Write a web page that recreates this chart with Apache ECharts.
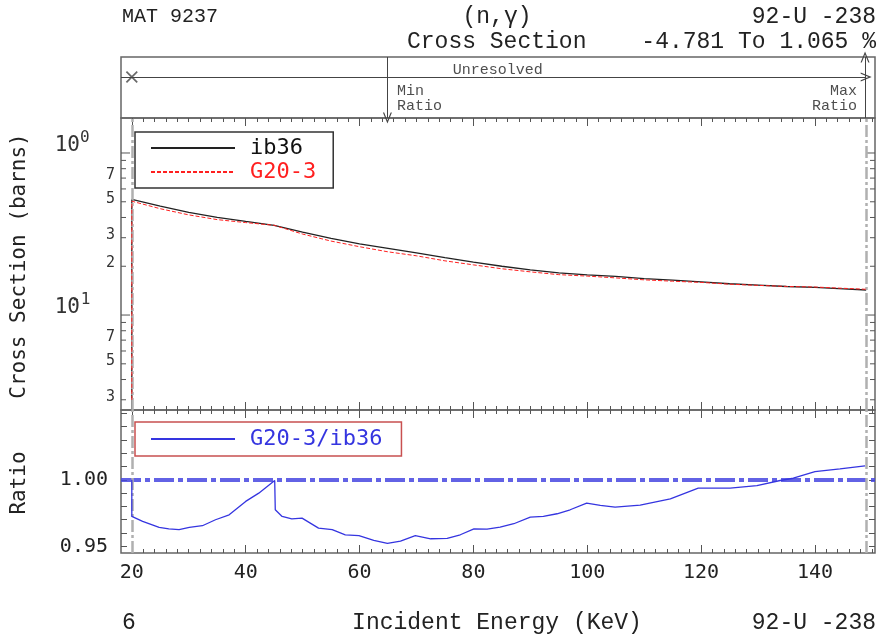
<!DOCTYPE html>
<html><head><meta charset="utf-8">
<script src="https://cdn.jsdelivr.net/npm/echarts@6/dist/echarts.min.js"></script>
<style>html,body{margin:0;padding:0;background:#fff}#c{width:880px;height:638px}</style>
</head><body><div id="c"></div>
<script>
// ---- data ----
const ib36Energy = [20, 20, 25, 30, 35, 40, 45, 50, 55, 60, 65, 70, 75, 80, 85, 90, 95, 100, 105, 110, 115, 120, 125, 130, 135, 140, 145, 149];
const ib36Values = [0.02, 0.518, 0.470, 0.430, 0.400, 0.378, 0.358, 0.325, 0.297, 0.275, 0.258, 0.242, 0.226, 0.212, 0.200, 0.190, 0.182, 0.177, 0.173, 0.168, 0.164, 0.160, 0.156, 0.153, 0.150, 0.148, 0.145, 0.1427];
const g203Energy = [20, 20, 25, 30, 35, 40, 45, 45.3, 50, 55, 60, 65, 70, 75, 80, 85, 90, 95, 100, 105, 110, 115, 120, 125, 130, 135, 140, 145, 149];
const g203Values = [0.030, 0.504, 0.453, 0.415, 0.388, 0.372, 0.358, 0.349, 0.316, 0.286, 0.264, 0.2455, 0.232, 0.216, 0.204, 0.193, 0.1847, 0.1775, 0.1739, 0.1695, 0.1649, 0.1617, 0.159, 0.155, 0.1524, 0.1501, 0.1489, 0.1462, 0.1442];
const ratioEnergy = [20, 20, 21.9, 24.8, 26.5, 28.3, 30.1, 32.4, 34.7, 37.1, 40, 42.3, 45.1, 45.2, 46.4, 48.1, 49.9, 52.8, 55.2, 57.5, 59.9, 62.5, 64.9, 67.2, 69.8, 72.5, 75.4, 77.7, 80.1, 82.4, 84.7, 87.1, 90.0, 92.3, 94.7, 97.0, 99.9, 102.3, 104.9, 109.3, 114.6, 119.5, 125.1, 129.8, 133.9, 136.2, 140, 144.4, 148.8];
const ratioValues = [1.000, 0.9725, 0.9688, 0.9642, 0.9632, 0.9625, 0.9642, 0.9655, 0.970, 0.9737, 0.9838, 0.990, 0.9995, 0.9775, 0.9725, 0.9707, 0.9712, 0.9637, 0.9625, 0.9587, 0.958, 0.9545, 0.9522, 0.954, 0.958, 0.9557, 0.956, 0.9587, 0.9632, 0.963, 0.9645, 0.967, 0.972, 0.9725, 0.9745, 0.9775, 0.9825, 0.9808, 0.9795, 0.981, 0.9857, 0.9937, 0.9937, 0.9957, 0.9995, 1.0012, 1.0062, 1.0082, 1.0105];
const xMajorTicks = [20, 40, 60, 80, 100, 120, 140];
const xMinorTicks = [22, 24, 26, 28, 30, 32, 34, 36, 38, 42, 44, 46, 48, 50, 52, 54, 56, 58, 62, 64, 66, 68, 70, 72, 74, 76, 78, 82, 84, 86, 88, 90, 92, 94, 96, 98, 102, 104, 106, 108, 110, 112, 114, 116, 118, 122, 124, 126, 128, 130, 132, 134, 136, 138, 142, 144, 146, 148, 150];
const ratioTicks = [0.95, 0.96, 0.97, 0.98, 0.99, 1.00, 1.01, 1.02, 1.03, 1.04, 1.05];
const ratioTickLabels = [0.95, 1.00];
const logTicks = [0.03, 0.04, 0.05, 0.06, 0.07, 0.08, 0.09, 0.1, 0.2, 0.3, 0.4, 0.5, 0.6, 0.7, 0.8, 0.9, 1];
const logMinorLabels = [[0.03, '3'], [0.05, '5'], [0.07, '7'], [0.2, '2'], [0.3, '3'], [0.5, '5'], [0.7, '7']];
const logMajorLabels = [[1, '10', '0'], [0.1, '10', '-1']];
const rangeStart = 20, rangeEnd = 149, minRatioE = 64.9, maxRatioE = 148.8;
const annotTexts = [
  {name: 'Unresolved', value: [84.3, 0.79], align: 'center'},
  {name: 'Min', value: [66.6, 0.44], align: 'left'},
  {name: 'Ratio', value: [66.6, 0.2], align: 'left'},
  {name: 'Max', value: [147.4, 0.44], align: 'right'},
  {name: 'Ratio', value: [147.4, 0.2], align: 'right'}
];

// ---- layout / style ----
const X_MIN = 18.1, X_MAX = 150.55;
const Y_MIN = 0.02594, Y_MAX = 1.644;
const R_MIN = 0.945, R_MAX = 1.0525;
const MONO = 'DejaVu Sans Mono';
const SERIFMONO = 'Liberation Mono';
const TICK = '#555';
const FRAME = '#666';

const zip = (a, b) => a.map((v, i) => [v, b[i]]);

function xAx(grid, pos, ticks, len, labels) {
  return {
    type: 'value', gridIndex: grid, position: pos, min: X_MIN, max: X_MAX,
    axisLine: {show: false}, splitLine: {show: false},
    axisTick: ticks ? {show: true, inside: true, length: len, customValues: ticks, lineStyle: {color: TICK, width: 1}} : {show: false},
    axisLabel: labels ? {show: true, customValues: labels, color: '#222', fontFamily: MONO, fontSize: 20, margin: 10} : {show: false}
  };
}

const chevron = 'path://M0,10 L5,0 L10,10 L8.6,10 L5,2.8 L1.4,10 Z';
const xMark = 'path://M0,1 L1,0 L10,9 L9,10 Z M9,0 L10,1 L1,10 L0,9 Z';

const grayLine = {color: '#b0b0b0', width: 2.5, type: [12, 3, 3, 3]};
const legendText = {fontFamily: MONO, fontSize: 22, lineHeight: 22, padding: [0, 0, 0, 10]};

const option = {
  animation: false,
  backgroundColor: '#fff',
  grid: [
    {left: 121, right: 5, top: 118, height: 292, show: true, borderColor: FRAME, borderWidth: 1.5, backgroundColor: 'transparent'},
    {left: 121, right: 5, top: 410, height: 143, show: true, borderColor: FRAME, borderWidth: 1.5, backgroundColor: 'transparent'},
    {left: 121, right: 5, top: 57, height: 61, show: true, borderColor: FRAME, borderWidth: 1.5, backgroundColor: 'transparent'}
  ],
  xAxis: [
    xAx(0, 'bottom', xMajorTicks, 8), xAx(0, 'bottom', xMinorTicks, 4),
    xAx(0, 'top', xMajorTicks, 8), xAx(0, 'top', xMinorTicks, 4),
    xAx(1, 'bottom', xMajorTicks, 8, xMajorTicks), xAx(1, 'bottom', xMinorTicks, 4),
    xAx(1, 'top', xMajorTicks, 8), xAx(1, 'top', xMinorTicks, 4),
    xAx(2, 'bottom', null, 0)
  ],
  yAxis: [
    {type: 'log', logBase: 10, gridIndex: 0, min: Y_MIN, max: Y_MAX, axisLine: {show: false}, axisTick: {show: false}, axisLabel: {show: false}, splitLine: {show: false}, minorTick: {show: false}},
    {type: 'value', gridIndex: 1, min: R_MIN, max: R_MAX, axisLine: {show: false}, splitLine: {show: false},
      axisTick: {show: true, inside: true, length: 6, customValues: ratioTicks, lineStyle: {color: TICK}},
      axisLabel: {show: true, customValues: ratioTickLabels, formatter: v => Number(v).toFixed(2), color: '#222', fontFamily: MONO, fontSize: 20, margin: 13, verticalAlign: 'middle', padding: [0, 0, 10, 0]}},
    {type: 'value', gridIndex: 1, position: 'right', min: R_MIN, max: R_MAX, axisLine: {show: false}, splitLine: {show: false},
      axisTick: {show: true, inside: true, length: 6, customValues: ratioTicks, lineStyle: {color: TICK}}, axisLabel: {show: false}},
    {type: 'value', gridIndex: 2, min: 0, max: 1, show: false}
  ],
  legend: [
    {data: [{name: 'ib36', textStyle: {color: '#111'}}, {name: 'G20-3', textStyle: {color: '#ff2020'}}],
      orient: 'vertical', left: 135, top: 132, padding: [5, 17, 5, 15], itemGap: 2, itemWidth: 84, itemHeight: 14,
      borderColor: '#333', borderWidth: 1.5, selectedMode: false, itemStyle: {opacity: 0},
      textStyle: legendText},
    {data: [{name: 'G20-3/ib36', textStyle: {color: '#3535e0'}}],
      orient: 'vertical', left: 135, top: 422, padding: [6, 19, 6, 15], itemWidth: 84, itemHeight: 14,
      borderColor: '#c85050', borderWidth: 1.5, selectedMode: false, itemStyle: {opacity: 0},
      textStyle: legendText}
  ],
  series: [
    {name: 'ib36', type: 'line', xAxisIndex: 0, yAxisIndex: 0, data: zip(ib36Energy, ib36Values), symbol: 'none',
      color: '#222', lineStyle: {color: '#222', width: 1.3}, z: 4,
      markLine: {silent: true, symbol: 'none', label: {show: false}, lineStyle: grayLine,
        data: [{xAxis: rangeStart}, {xAxis: rangeEnd}]}},
    {name: 'G20-3', type: 'line', xAxisIndex: 0, yAxisIndex: 0, data: zip(g203Energy, g203Values), symbol: 'none',
      color: '#ff2020', lineStyle: {color: '#ff2020', width: 1, type: [4, 2]}, z: 5},
    {name: 'G20-3/ib36', type: 'line', xAxisIndex: 4, yAxisIndex: 1, data: zip(ratioEnergy, ratioValues), symbol: 'none',
      color: '#3535e0', lineStyle: {color: '#3535e0', width: 1.3}, z: 5,
      markLine: {silent: true, symbol: 'none', label: {show: false},
        data: [
          {yAxis: 1, lineStyle: {color: 'rgba(70,70,225,0.85)', width: 4, type: [20, 4, 5, 4]}},
          {xAxis: rangeStart, lineStyle: grayLine},
          {xAxis: rangeEnd, lineStyle: grayLine}
        ]}},
    {name: 'annot', type: 'scatter', xAxisIndex: 8, yAxisIndex: 3, symbolSize: 0, silent: true,
      data: annotTexts.map(t => ({name: t.name, value: t.value, label: {align: t.align}})),
      label: {show: true, position: 'inside', formatter: p => p.name, color: '#222', fontFamily: SERIFMONO, fontSize: 15, verticalAlign: 'middle'},
      markLine: {silent: true, label: {show: false}, symbolSize: [9, 11], lineStyle: {color: '#444', width: 1, type: 'solid'},
        data: [
          [{coord: [X_MIN, 0.672], symbol: 'none'}, {coord: [rangeEnd, 0.672], symbol: chevron}],
          [{coord: [minRatioE, 1], symbol: 'none'}, {coord: [minRatioE, 0], symbol: chevron}],
          [{coord: [maxRatioE, 0], symbol: 'none'}, {coord: [maxRatioE, 1], symbol: chevron}]
        ]}},
    {name: 'start', type: 'scatter', xAxisIndex: 8, yAxisIndex: 3, symbol: xMark, symbolSize: 12, silent: true,
      itemStyle: {color: '#444'}, data: [[rangeStart, 0.672]]}
  ]
};

const chart = echarts.init(document.getElementById('c'), null, {renderer: 'canvas'});
chart.setOption(option);

// log-axis ticks and labels placed through the axis scale
const xl = chart.convertToPixel({xAxisIndex: 0}, X_MIN);
const xr = chart.convertToPixel({xAxisIndex: 0}, X_MAX);
const yPix = v => chart.convertToPixel({yAxisIndex: 0}, v);
const g = [];
logTicks.forEach(v => {
  const y = yPix(v);
  const major = (v === 1 || v === 0.1);
  const len = major ? 9 : 5;
  g.push({type: 'line', silent: true, shape: {x1: xl, y1: y, x2: xl + len, y2: y}, style: {stroke: TICK, lineWidth: 1}});
  g.push({type: 'line', silent: true, shape: {x1: xr, y1: y, x2: xr - len, y2: y}, style: {stroke: TICK, lineWidth: 1}});
});
logMinorLabels.forEach(([v, t]) => {
  g.push({type: 'text', silent: true, x: xl - 6, y: yPix(v) - 3,
    style: {text: t, fill: '#333', fontFamily: MONO, fontSize: 15, align: 'right', verticalAlign: 'middle'}});
});
logMajorLabels.forEach(([v, base, sup]) => {
  const y = yPix(v);
  g.push({type: 'text', silent: true, x: xl - 41, y: y - 7,
    style: {text: base, fill: '#333', fontFamily: MONO, fontSize: 21, align: 'right', verticalAlign: 'middle'}});
  g.push({type: 'text', silent: true, x: xl - (sup.length > 1 ? 50 : 41), y: y - 15,
    style: {text: sup, fill: '#333', fontFamily: MONO, fontSize: 16, align: 'left', verticalAlign: 'middle'}});
});
// titles
const txt = (text, x, y, size, align, fam, rot) => ({type: 'text', silent: true, x, y, rotation: rot || 0,
  style: {text, fill: '#222', fontFamily: fam, fontSize: size, align, verticalAlign: 'middle'}});
g.push(txt('MAT 9237', 122, 17, 20, 'left', SERIFMONO));
g.push(txt('(n,γ)', 497, 17, 23, 'center', SERIFMONO));
g.push(txt('92-U -238', 876, 17, 23, 'right', SERIFMONO));
g.push(txt('Cross Section', 407, 42, 23, 'left', SERIFMONO));
g.push(txt('-4.781 To 1.065 %', 876, 42, 23, 'right', SERIFMONO));
g.push(txt('6', 122, 623, 23, 'left', SERIFMONO));
g.push(txt('Incident Energy (KeV)', 497, 623, 23, 'center', SERIFMONO));
g.push(txt('92-U -238', 876, 623, 23, 'right', SERIFMONO));
g.push(txt('Cross Section (barns)', 20, 266, 21, 'center', MONO, Math.PI / 2));
g.push(txt('Ratio', 20, 483, 21, 'center', MONO, Math.PI / 2));
chart.setOption({graphic: {elements: g}});
</script></body></html>
